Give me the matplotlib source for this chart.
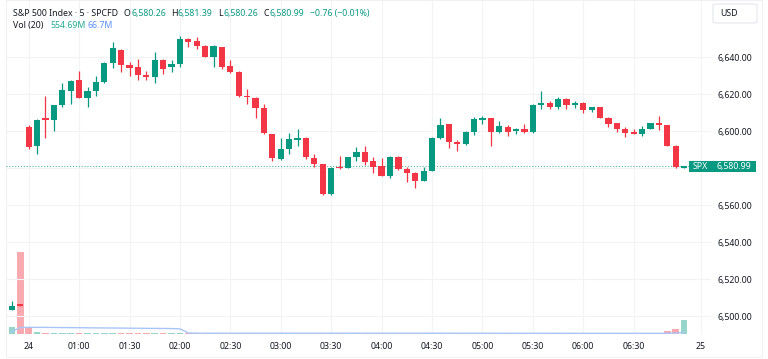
import numpy as np
import pandas as pd
import matplotlib.pyplot as plt
from matplotlib.patches import Rectangle, FancyBboxPatch
from matplotlib.transforms import blended_transform_factory

W, H = 768, 359
UP = '#089981'
DOWN = '#f23645'
TXT = '#131722'
GRID = '#f2f3f5'

# 5-minute bars, index 0 = first bar of the 24th
bar_idx = list(range(-2, 79))
opens = [6503.4, 6506.6,
         6602.2, 6592.2, 6607.0, 6606.0, 6614.4, 6621.8, 6627.7, 6618.2, 6622.0, 6626.5,
         6637.1, 6643.9, 6635.8, 6634.9, 6630.4, 6629.5, 6638.5, 6634.6, 6636.4, 6649.9,
         6648.8, 6646.1, 6640.3, 6645.4, 6635.3, 6632.2, 6619.0, 6618.2, 6612.4, 6598.5,
         6584.9, 6590.3, 6595.3, 6596.5, 6585.7, 6582.2, 6565.9, 6580.7, 6580.3, 6586.0,
         6588.6, 6583.9, 6581.2, 6576.0, 6586.3, 6579.5, 6577.6, 6573.1, 6578.7, 6596.5,
         6603.8, 6594.4, 6593.0, 6599.8, 6606.1, 6607.0, 6599.4, 6602.2, 6600.2, 6601.1,
         6599.4, 6614.2, 6615.5, 6613.3, 6617.3, 6614.2, 6615.5, 6611.5, 6613.0, 6607.4,
         6604.3, 6601.2, 6599.4, 6598.5, 6601.1, 6604.3, 6603.4, 6592.2, 6580.26]
highs = [6508.3, 6506.8,
         6603.4, 6606.5, 6619.0, 6614.2, 6626.0, 6627.7, 6632.6, 6624.1, 6629.9, 6637.3,
         6648.1, 6644.5, 6637.6, 6638.9, 6632.8, 6642.9, 6639.0, 6638.5, 6651.7, 6650.3,
         6651.1, 6646.6, 6646.6, 6645.7, 6638.5, 6632.4, 6623.0, 6618.4, 6614.8, 6598.7,
         6596.2, 6598.9, 6601.1, 6597.0, 6587.7, 6582.4, 6580.5, 6586.6, 6586.3, 6591.4,
         6592.1, 6586.3, 6585.4, 6586.8, 6586.6, 6580.5, 6577.8, 6580.9, 6596.8, 6607.3,
         6604.0, 6595.0, 6600.0, 6607.9, 6608.3, 6607.3, 6605.6, 6603.4, 6601.6, 6604.0,
         6614.5, 6621.8, 6616.5, 6618.4, 6617.8, 6616.5, 6616.0, 6613.3, 6613.2, 6607.6,
         6604.5, 6602.5, 6601.2, 6603.0, 6604.5, 6608.3, 6603.6, 6592.3, 6581.39]
lows = [6503.2, 6505.5,
        6590.4, 6587.7, 6596.2, 6600.3, 6613.0, 6614.8, 6618.0, 6613.0, 6619.2, 6626.3,
        6634.4, 6632.0, 6630.0, 6627.9, 6627.7, 6626.0, 6631.0, 6632.2, 6634.6, 6645.7,
        6644.5, 6640.0, 6634.6, 6633.7, 6631.7, 6618.7, 6614.6, 6607.0, 6598.6, 6584.1,
        6584.7, 6587.7, 6592.1, 6584.9, 6580.5, 6565.5, 6565.7, 6579.5, 6580.0, 6583.9,
        6581.8, 6577.3, 6575.8, 6574.9, 6579.2, 6572.8, 6569.2, 6572.9, 6578.5, 6596.0,
        6591.1, 6589.5, 6592.7, 6598.0, 6603.8, 6592.1, 6599.2, 6597.5, 6598.5, 6599.2,
        6599.2, 6611.9, 6611.9, 6612.0, 6612.0, 6612.4, 6610.0, 6610.3, 6607.2, 6602.5,
        6599.8, 6596.8, 6598.3, 6597.5, 6601.0, 6600.7, 6592.0, 6580.0, 6580.26]
closes = [6505.6, 6505.7,
          6591.7, 6606.1, 6606.1, 6614.0, 6622.5, 6627.4, 6618.2, 6622.0, 6626.8, 6637.1,
          6644.9, 6636.0, 6634.0, 6630.4, 6629.5, 6638.4, 6633.8, 6636.4, 6649.9, 6648.4,
          6645.9, 6640.3, 6646.1, 6634.9, 6632.0, 6618.9, 6618.7, 6612.4, 6598.9, 6585.4,
          6590.3, 6595.7, 6596.5, 6586.0, 6582.2, 6565.9, 6580.3, 6580.3, 6586.0, 6588.6,
          6583.2, 6580.9, 6576.0, 6586.3, 6579.5, 6577.6, 6573.1, 6578.7, 6596.5, 6603.6,
          6594.1, 6593.1, 6599.8, 6606.5, 6607.0, 6599.4, 6602.9, 6599.8, 6601.1, 6599.4,
          6614.2, 6615.5, 6613.3, 6617.3, 6614.2, 6615.5, 6611.5, 6613.0, 6607.4, 6604.0,
          6601.1, 6598.9, 6598.5, 6601.2, 6604.3, 6603.4, 6592.2, 6580.5, 6580.99]
# volume in millions
volumes = [265, 3260,
           225, 67, 45, 35, 30, 28, 32, 30, 26, 30,
           34, 28, 25, 30, 27, 33, 29, 26, 35, 30,
           28, 32, 27, 30, 26, 34, 29, 31, 36, 38,
           30, 28, 26, 31, 29, 38, 35, 27, 26, 28,
           30, 27, 29, 33, 28, 26, 30, 27, 36, 32,
           30, 27, 26, 29, 25, 31, 28, 27, 25, 26,
           30, 28, 25, 27, 26, 24, 26, 23, 27, 28,
           27, 26, 24, 25, 27, 40, 100, 200, 554.69]
# bars before the visible range, only used to seed the 20-bar volume average
prior_volumes = [88, 95, 90, 84, 97, 92, 86, 90, 94, 89,
                 91, 87, 96, 93, 85, 90, 92, 88, 94]

tick_pos = [0, 6, 12, 18, 24, 30, 36, 42, 48, 54, 60, 66, 72, 80]
tick_labels = ['24', '01:00', '01:30', '02:00', '02:30', '03:00', '03:30',
               '04:00', '04:30', '05:00', '05:30', '06:00', '06:30', '25']
price_ticks = [6500, 6520, 6540, 6560, 6580, 6600, 6620, 6640]

plt.rcParams['font.family'] = ['Noto Sans', 'DejaVu Sans']
FS = 6.3


def fx(x):
    return x / W


def fy(y):
    return 1 - y / H


fig = plt.figure(figsize=(W / 100, H / 100), dpi=100)
fig.patch.set_facecolor('white')

ax = fig.add_axes([fx(6), fy(334), (711 - 6) / W, (334 - 1) / H])
axv = ax.twinx()
ax.set_zorder(2)
axv.set_zorder(1)
ax.patch.set_visible(False)

ax.set_xlim(-2.7, 81.2)
ax.set_ylim(6490.4, 6670.4)
axv.set_ylim(0, 13200)

for s in list(ax.spines.values()) + list(axv.spines.values()):
    s.set_visible(False)
axv.set_yticks([])

# grid
for t in tick_pos:
    axv.axvline(t, color=GRID, lw=0.8, zorder=0)
for p in price_ticks:
    ax.axhline(p, color=GRID, lw=0.8, zorder=0)

o = np.array(opens)
c = np.array(closes)
hi = np.array(highs)
lo = np.array(lows)
up = c >= o
cols = np.where(up, UP, DOWN)

# volume + MA(20)
axv.bar(bar_idx, volumes, width=0.78, color=cols, alpha=0.42, linewidth=0, zorder=1)
vol_all = pd.Series(prior_volumes + volumes, dtype=float)
vol_ma = vol_all.rolling(20).mean().iloc[len(prior_volumes):]
axv.plot(bar_idx, vol_ma.values, color='#a9c5f7', lw=1.0, zorder=2)

# candles
body_bottom = np.minimum(o, c)
body_h = np.maximum(np.abs(c - o), 0.55)
ax.vlines(bar_idx, lo, hi, colors=cols, lw=0.9, zorder=3)
ax.bar(bar_idx, body_h, bottom=body_bottom, width=0.74, color=cols, linewidth=0, zorder=4)

# last price line
last = closes[-1]
ax.axhline(last, color=UP, ls=(0, (1, 1.6)), lw=0.8, alpha=0.7, zorder=2)

# axes ticks (the 6,580.00 label is hidden behind the last-price label)
ax.set_xticks(tick_pos)
ax.set_xticklabels(tick_labels, fontsize=FS, color=TXT)
ax.get_xticklabels()[0].set_fontweight('bold')
ax.tick_params(axis='x', length=0, pad=6)
ax.yaxis.tick_right()
ax.set_yticks(price_ticks)
ax.set_yticklabels(['' if abs(p - last) < 5 else f'{p:,.2f}' for p in price_ticks],
                   fontsize=FS, color=TXT)
ax.tick_params(axis='y', length=0, pad=4.5)

# last price labels
tr = blended_transform_factory(ax.transAxes, ax.transData)
box_h = 11.7 / 1.85
ax.add_patch(Rectangle((1.0, last - box_h / 2), 45 / 705, box_h, transform=tr,
                       color=UP, clip_on=False, zorder=6, linewidth=0))
ax.add_patch(Rectangle((683 / 705, last - box_h / 2), 21.5 / 705, box_h, transform=tr,
                       color=UP, clip_on=False, zorder=6, linewidth=0))
ax.text(1.0 + 22.5 / 705, last, f'{last:,.2f}', transform=tr, color='white',
        fontsize=FS, ha='center', va='center', zorder=7, clip_on=False)
ax.text(694 / 705, last, 'SPX', transform=tr, color='white',
        fontsize=FS, ha='center', va='center', zorder=7, clip_on=False)

# currency box
fig.patches.append(FancyBboxPatch((fx(713), fy(23)), 44 / W, 19 / H,
                                  boxstyle='round,pad=0,rounding_size=0.004',
                                  transform=fig.transFigure, facecolor='white',
                                  edgecolor='#e0e3eb', linewidth=0.7))
fig.text(fx(720), fy(13.5), 'USD', fontsize=FS, color=TXT, va='center')

# widget frame
fig.patches.append(Rectangle((fx(6), fy(357)), (762 - 6) / W, 357 / H,
                             transform=fig.transFigure, fill=False,
                             edgecolor='#f0f1f4', linewidth=0.8))

# legend
hdr_y = fy(13.3)
fig.text(fx(13), hdr_y, 'S&P 500 Index · 5 · SPCFD', fontsize=FS, color=TXT, va='center')
ohlc = [('O', 124, 131, '6,580.26'), ('H', 171, 177, '6,581.39'),
        ('L', 218, 223, '6,580.26'), ('C', 263, 269, '6,580.99')]
for key, kx, vx, val in ohlc:
    fig.text(fx(kx), hdr_y, key, fontsize=FS, color=TXT, va='center')
    fig.text(fx(vx), hdr_y, val, fontsize=FS, color=UP, va='center')
fig.text(fx(310), hdr_y, '−0.76 (−0.01%)', fontsize=FS, color=UP, va='center')

vol_y = fy(25.3)
fig.text(fx(13), vol_y, 'Vol (20)', fontsize=FS, color=TXT, va='center')
fig.text(fx(50), vol_y, '554.69M', fontsize=FS, color='#22ab94', va='center')
fig.text(fx(88), vol_y, '66.7M', fontsize=FS, color='#5b8ff9', va='center')

fig.savefig('out.png', dpi=100)
